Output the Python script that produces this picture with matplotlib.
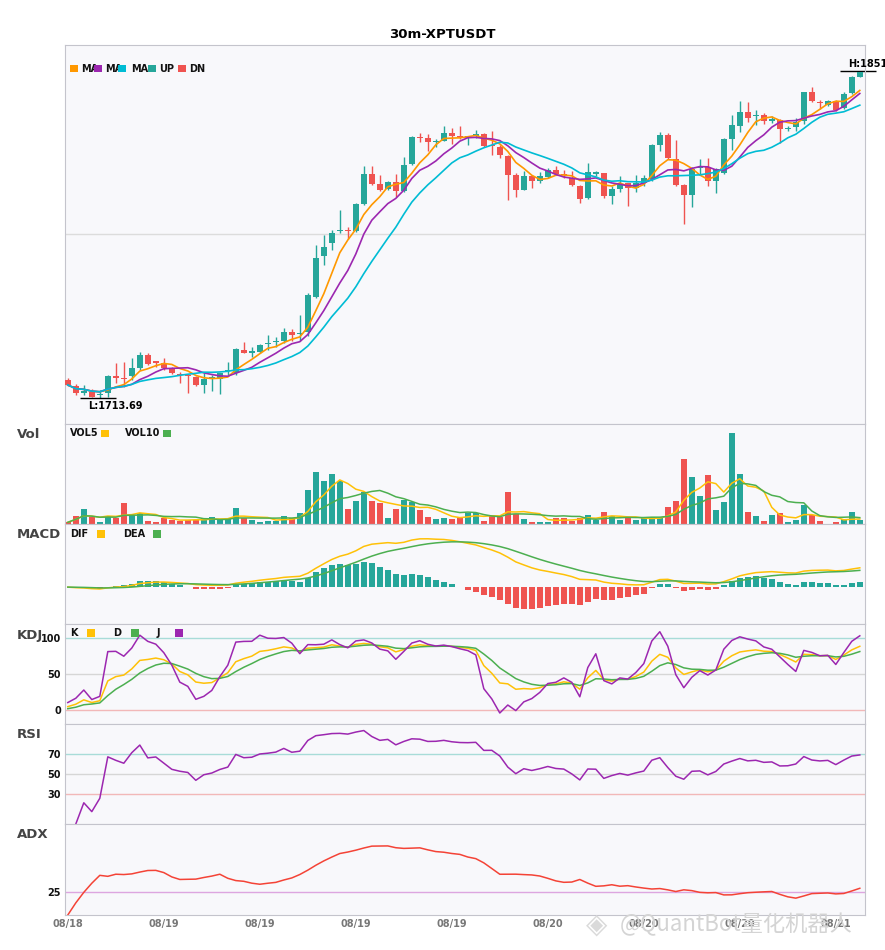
import numpy as np
import pandas as pd
import matplotlib
matplotlib.use("Agg")
import matplotlib.pyplot as plt
from matplotlib.patches import Rectangle

# 30m candles
opens = [1721.1, 1718.6, 1715.8, 1716.2, 1714.6, 1715.8, 1722.5, 1722.1, 1722.8, 1726.0,
         1731.6, 1728.8, 1728.1, 1726.3, 1723.6, 1723.1, 1722.5, 1719.0, 1721.4, 1721.5,
         1724.7, 1723.9, 1733.7, 1732.6, 1733.0, 1736.1, 1737.0, 1737.6, 1741.2, 1740.2,
         1741.4, 1756.1, 1773.0, 1778.6, 1783.5, 1783.9, 1783.5, 1795.1, 1807.7, 1803.5,
         1801.4, 1804.3, 1800.3, 1811.9, 1823.0, 1822.7, 1821.0, 1821.7, 1824.8, 1823.6,
         1822.9, 1823.8, 1824.5, 1819.6, 1818.9, 1815.3, 1807.3, 1801.0, 1806.6, 1804.9,
         1806.3, 1809.4, 1807.5, 1805.9, 1802.8, 1797.5, 1807.8, 1808.0, 1798.2, 1801.2,
         1803.8, 1801.9, 1804.0, 1805.6, 1819.9, 1824.1, 1814.0, 1803.1, 1798.9, 1810.1,
         1810.5, 1804.9, 1808.0, 1822.2, 1827.9, 1833.9, 1832.0, 1832.5, 1829.7, 1830.4,
         1826.5, 1827.3, 1829.7, 1841.9, 1838.0, 1836.7, 1838.4, 1835.3, 1841.6, 1848.6]
highs = [1721.7, 1719.4, 1719.0, 1717.2, 1716.9, 1723.2, 1728.1, 1728.5, 1730.2, 1733.0,
         1732.3, 1729.1, 1730.2, 1726.7, 1724.6, 1723.6, 1722.8, 1723.9, 1723.2, 1724.2,
         1728.8, 1734.4, 1736.9, 1735.1, 1736.1, 1740.0, 1739.0, 1743.1, 1742.4, 1748.2,
         1757.8, 1777.9, 1782.1, 1784.2, 1792.3, 1785.3, 1795.4, 1811.1, 1810.8, 1807.3,
         1804.9, 1807.7, 1814.7, 1823.8, 1824.8, 1824.5, 1822.3, 1827.6, 1826.9, 1827.9,
         1823.8, 1826.2, 1824.8, 1825.5, 1819.9, 1815.7, 1808.0, 1808.7, 1807.3, 1808.3,
         1810.1, 1810.8, 1809.4, 1808.7, 1803.1, 1812.2, 1809.1, 1808.2, 1802.6, 1806.8,
         1804.0, 1807.3, 1807.3, 1820.3, 1825.1, 1824.8, 1822.0, 1803.5, 1810.5, 1814.0,
         1814.3, 1810.1, 1822.7, 1832.5, 1838.4, 1837.7, 1834.6, 1833.2, 1831.8, 1830.7,
         1827.9, 1831.1, 1842.1, 1844.0, 1838.8, 1838.8, 1838.8, 1841.9, 1849.0, 1851.0]
lows = [1718.6, 1714.8, 1714.8, 1713.9, 1713.69, 1714.1, 1719.7, 1718.3, 1721.1, 1725.3,
        1727.4, 1726.7, 1725.3, 1723.6, 1719.7, 1715.8, 1718.6, 1715.5, 1716.6, 1715.2,
        1723.2, 1723.2, 1732.3, 1730.9, 1732.3, 1733.7, 1735.1, 1736.8, 1737.6, 1737.6,
        1739.6, 1755.5, 1769.5, 1775.5, 1782.8, 1780.2, 1783.2, 1794.8, 1803.1, 1800.3,
        1801.0, 1797.9, 1799.9, 1811.5, 1820.9, 1817.1, 1818.9, 1821.3, 1820.3, 1822.3,
        1819.9, 1822.7, 1818.9, 1815.7, 1814.3, 1796.8, 1797.9, 1800.7, 1801.7, 1803.8,
        1805.9, 1807.3, 1805.9, 1802.7, 1795.4, 1797.1, 1806.8, 1797.7, 1795.1, 1800.2,
        1794.2, 1800.2, 1802.4, 1804.5, 1817.5, 1813.8, 1802.4, 1786.7, 1793.9, 1807.3,
        1802.6, 1799.8, 1807.7, 1817.8, 1825.1, 1829.3, 1828.3, 1828.7, 1829.0, 1820.8,
        1825.5, 1825.5, 1828.7, 1838.1, 1834.9, 1836.3, 1834.3, 1834.9, 1841.3, 1848.3]
closes = [1719.0, 1715.8, 1716.6, 1714.1, 1715.1, 1722.8, 1722.1, 1721.5, 1726.0, 1731.6,
          1727.8, 1728.4, 1726.3, 1723.9, 1723.1, 1722.6, 1719.0, 1721.4, 1722.2, 1723.9,
          1725.1, 1734.0, 1732.6, 1733.0, 1735.8, 1736.5, 1737.5, 1741.2, 1739.8, 1740.8,
          1756.8, 1772.3, 1776.9, 1782.8, 1783.9, 1783.5, 1795.1, 1807.7, 1803.5, 1800.7,
          1804.3, 1800.3, 1811.5, 1823.0, 1822.7, 1820.9, 1821.4, 1824.8, 1823.8, 1823.3,
          1823.2, 1824.1, 1819.2, 1819.3, 1815.7, 1807.3, 1801.0, 1806.6, 1804.9, 1806.9,
          1809.4, 1807.7, 1807.2, 1803.1, 1797.2, 1808.3, 1808.1, 1798.2, 1801.2, 1803.5,
          1801.7, 1804.0, 1805.9, 1819.9, 1824.1, 1814.3, 1803.1, 1798.6, 1809.8, 1810.4,
          1804.9, 1809.8, 1822.4, 1828.3, 1833.9, 1831.1, 1832.3, 1830.0, 1830.8, 1826.5,
          1826.8, 1829.3, 1841.9, 1838.5, 1837.6, 1838.5, 1834.6, 1841.4, 1848.6, 1850.7]
volumes = [5, 23, 46, 20, 7, 23, 18, 64, 28, 33,
           10, 7, 18, 13, 10, 11, 11, 18, 22, 13,
           15, 49, 18, 13, 7, 10, 10, 25, 18, 34,
           100, 154, 127, 148, 128, 46, 70, 94, 70, 63,
           19, 46, 71, 67, 43, 22, 16, 19, 16, 22,
           33, 33, 10, 25, 20, 94, 30, 16, 7, 7,
           7, 18, 18, 10, 18, 28, 13, 37, 25, 13,
           18, 13, 18, 20, 18, 52, 70, 193, 139, 82,
           145, 43, 67, 271, 148, 37, 25, 10, 28, 34,
           7, 13, 58, 28, 10, 1, 7, 16, 37, 13]
date_labels = ["08/18", "08/19", "08/19", "08/19", "08/19", "08/20", "08/20", "08/20", "08/21"]
ma_periods = [5, 8, 13]

UP = "#26a69a"
DN = "#ef5350"
MA_COLORS = ["#ff9800", "#9c27b0", "#00bcd4"]
YEL = "#ffc107"
GRN = "#4caf50"
PUR = "#9c27b0"
FACE = "#f8f8fb"
SPINE = "#c4c4cc"

W, H = 885, 950
fig = plt.figure(figsize=(W / 100, H / 100), dpi=100)


def fx(x):
    return x / W


def fy(y):
    return 1 - y / H


def make_axes(top, bottom):
    ax = fig.add_axes([fx(65), fy(bottom), fx(865) - fx(65), (bottom - top) / H])
    ax.set_facecolor(FACE)
    for s in ax.spines.values():
        s.set_color(SPINE)
    ax.tick_params(axis="x", length=0, labelbottom=False)
    ax.tick_params(axis="y", length=0, labelsize=7, labelcolor="#111111", pad=3)
    ax.set_xlim(-0.35, len(closes) - 0.35)
    return ax


o = np.array(opens)
h = np.array(highs)
l = np.array(lows)
c = np.array(closes)
v = np.array(volumes, dtype=float)
x = np.arange(len(c))
cs = pd.Series(c)
colors = np.where(c >= o, UP, DN)

# ---- candles
ax_k = make_axes(45, 424)
ax_k.vlines(x, l, h, colors=colors, lw=1, zorder=2)
ax_k.bar(x, np.maximum(np.abs(c - o), 0.5), bottom=np.minimum(o, c), width=0.75,
         color=colors, lw=0, zorder=3)
for n, col in zip(ma_periods, MA_COLORS):
    ax_k.plot(x, cs.rolling(n, min_periods=1).mean(), color=col, lw=1.2, zorder=4)
rng = h.max() - l.min()
y0, y1 = l.min() - 0.081 * rng, h.max() + 0.079 * rng
ax_k.set_ylim(y0, y1)
ax_k.set_yticks([(y0 + y1) / 2])
ax_k.set_yticklabels([])
ax_k.grid(axis="y", color="#dcdcdc", lw=1)
ax_k.set_axisbelow(True)

ih, il = int(np.argmax(h)), int(np.argmin(l))
ax_k.hlines(h[ih], ih - 2.45, ih + 2.0, color="black", lw=1, clip_on=False)
ax_k.hlines(l[il], il - 2.45, il + 2.0, color="black", lw=1, clip_on=False)
ax_k.annotate(f"H:{h[ih]:g}", (ih - 1.45, h[ih]), xytext=(0, 1), textcoords="offset points",
              ha="left", va="bottom", fontsize=7, fontweight="bold", annotation_clip=False)
ax_k.annotate(f"L:{l[il]:g}", (il - 1.45, l[il]), xytext=(0, -2.5), textcoords="offset points",
              ha="left", va="top", fontsize=7, fontweight="bold", annotation_clip=False)

# ---- volume
ax_v = make_axes(424, 524)
ax_v.bar(x, v, width=0.75, color=colors, lw=0)
vs = pd.Series(v)
ax_v.plot(x, vs.rolling(5, min_periods=1).mean(), color=YEL, lw=1.1)
ax_v.plot(x, vs.rolling(10, min_periods=1).mean(), color=GRN, lw=1.1)
ax_v.set_ylim(0, v.max() * 1.1)
ax_v.set_yticks([])

# ---- MACD
ax_m = make_axes(524, 624)
dif = cs.ewm(span=12, adjust=False).mean() - cs.ewm(span=26, adjust=False).mean()
dea = dif.ewm(span=9, adjust=False).mean()
hist = (dif - dea) * 2
ax_m.bar(x, hist, width=0.75, color=np.where(hist >= 0, UP, DN), lw=0)
ax_m.plot(x, dif, color=YEL, lw=1.1)
ax_m.plot(x, dea, color=GRN, lw=1.1)
ax_m.margins(y=0.21)
ax_m.set_yticks([])

# ---- KDJ
ax_j = make_axes(624, 724)
llv = pd.Series(l).rolling(9, min_periods=1).min()
hhv = pd.Series(h).rolling(9, min_periods=1).max()
rsv = ((cs - llv) / (hhv - llv) * 100).fillna(0).values
k_vals, d_vals = [], []
kp = dp = 0.0
for r in rsv:
    kp = kp * 2 / 3 + r / 3
    dp = dp * 2 / 3 + kp / 3
    k_vals.append(kp)
    d_vals.append(dp)
k_arr, d_arr = np.array(k_vals), np.array(d_vals)
j_arr = 3 * k_arr - 2 * d_arr
for lvl, col in [(100, "#a8dcd8"), (50, "#d6d6d6"), (0, "#f2b8b8")]:
    ax_j.axhline(lvl, color=col, lw=1, zorder=1)
ax_j.plot(x, k_arr, color=YEL, lw=1.1)
ax_j.plot(x, d_arr, color=GRN, lw=1.1)
ax_j.plot(x, j_arr, color=PUR, lw=1.1)
ax_j.set_ylim(-20, 120)
ax_j.set_yticks([0, 50, 100])

# ---- RSI
ax_r = make_axes(724, 824)
delta = cs.diff()
gain = delta.clip(lower=0).ewm(alpha=1 / 14, adjust=True).mean()
loss = (-delta.clip(upper=0)).ewm(alpha=1 / 14, adjust=True).mean()
rsi = 100 * gain / (gain + loss)
for lvl, col in [(70, "#a8dcd8"), (50, "#d6d6d6"), (30, "#f2b8b8")]:
    ax_r.axhline(lvl, color=col, lw=1, zorder=1)
ax_r.plot(x, rsi, color=PUR, lw=1.1)
ax_r.set_ylim(0, 100)
ax_r.set_yticks([30, 50, 70])

# ---- ADX
ax_a = make_axes(824, 915)
hs, ls = pd.Series(h), pd.Series(l)
prev_c = cs.shift(1)
tr = pd.concat([hs - ls, (hs - prev_c).abs(), (ls - prev_c).abs()], axis=1).max(axis=1)
up_move = hs.diff()
dn_move = -ls.diff()
pdm = pd.Series(np.where((up_move > dn_move) & (up_move > 0), up_move, 0.0))
mdm = pd.Series(np.where((dn_move > up_move) & (dn_move > 0), dn_move, 0.0))
atr = tr.ewm(span=14, adjust=False).mean()
pdi = 100 * pdm.ewm(span=14, adjust=False).mean() / atr
mdi = 100 * mdm.ewm(span=14, adjust=False).mean() / atr
dx = (100 * (pdi - mdi).abs() / (pdi + mdi)).fillna(0)
adx = dx.ewm(span=14, adjust=False).mean()
ax_a.axhline(25, color="#dda6e0", lw=1, zorder=1)
ax_a.plot(x, adx, color="#f44336", lw=1.1)
ax_a.set_ylim(0, 100)
ax_a.set_yticks([25])
tick_pos = np.arange(0, len(c), 12)
ax_a.set_xticks(tick_pos)
ax_a.set_xticklabels(date_labels)
ax_a.tick_params(axis="x", labelbottom=True, labelsize=7, labelcolor="#777777", pad=3)
for t in ax_a.get_xticklabels():
    t.set_fontweight("bold")

for ax in (ax_j, ax_r, ax_a):
    for t in ax.get_yticklabels():
        t.set_fontweight("bold")

# ---- texts and legends
fig.text(0.5, fy(34), "30m-XPTUSDT", ha="center", va="center", fontsize=9.5, fontweight="bold")

for label, yc in [("Vol", 434), ("MACD", 535), ("KDJ", 636), ("RSI", 735), ("ADX", 835)]:
    fig.text(fx(17), fy(yc), label, ha="left", va="center", fontsize=9.5,
             fontweight="bold", color="#444444")


def square(xl, yc, col):
    fig.add_artist(Rectangle((fx(xl), fy(yc + 3.8)), 8 / W, 7.6 / H, transform=fig.transFigure,
                             color=col, lw=0, zorder=5))


def label_text(xl, yc, s):
    fig.text(fx(xl), fy(yc), s, ha="left", va="center", fontsize=7, fontweight="bold",
             color="#111111", zorder=4)


main_items = [("MA", MA_COLORS[0], 70, 81), ("MA", MA_COLORS[1], 94, 105),
              ("MA", MA_COLORS[2], 118, 131), ("UP", UP, 148, 159), ("DN", DN, 178, 189)]
for s, col, xs, xt in main_items:
    label_text(xt, 68.5, s)
    square(xs, 68.5, col)

panel_items = [
    (433.5, [("VOL5", YEL, 70, 101), ("VOL10", GRN, 125, 163)]),
    (533.7, [("DIF", YEL, 70, 97), ("DEA", GRN, 123, 153)]),
    (633.3, [("K", YEL, 70, 87), ("D", GRN, 113, 131), ("J", PUR, 157, 175)]),
]
for yc, items in panel_items:
    for s, col, xt, xs in items:
        label_text(xt, yc, s)
        square(xs, yc, col)

# watermark
fig.text(fx(586), fy(925), "\u25c8", ha="left", va="center", fontsize=20,
         color="#dadada", zorder=10)
fig.text(fx(620), fy(925), "@QuantBot量化机器人", ha="left", va="center", fontsize=16,
         color="#d4d4d4", family=["Noto Sans CJK SC", "DejaVu Sans"], zorder=10)

fig.savefig("out.png", dpi=100)
